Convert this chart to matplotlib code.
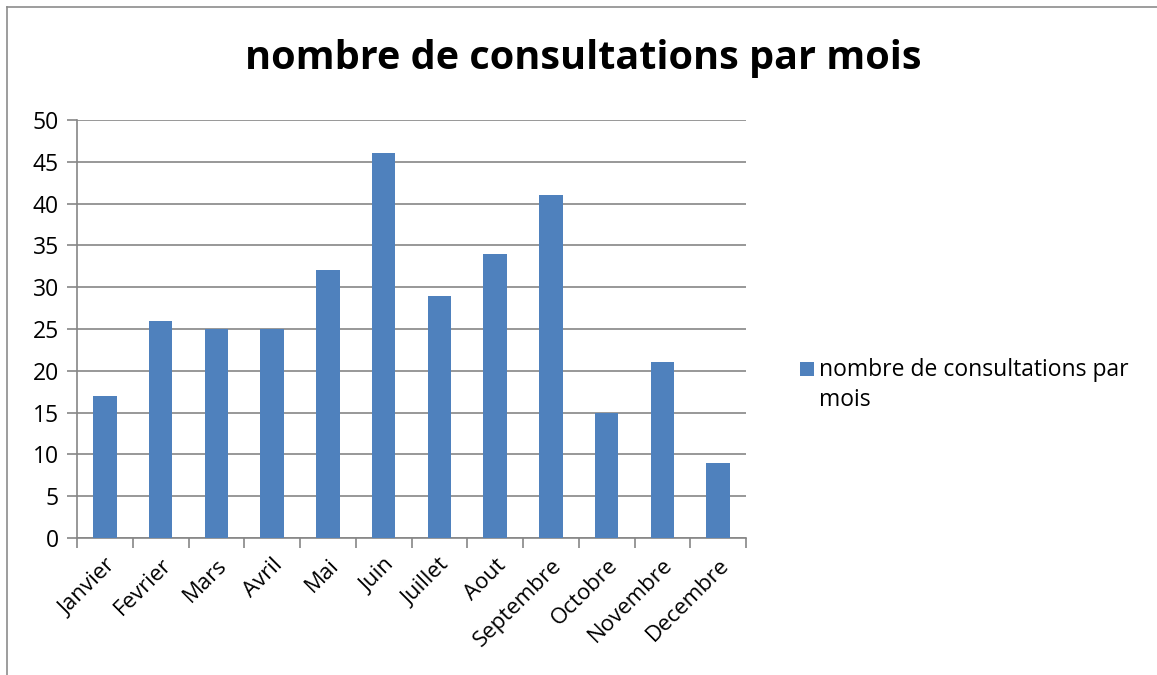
import matplotlib
matplotlib.use("Agg")
import matplotlib.pyplot as plt
from matplotlib.lines import Line2D
from matplotlib.patches import Rectangle

months = ["Janvier", "Fevrier", "Mars", "Avril", "Mai", "Juin", "Juillet",
          "Aout", "Septembre", "Octobre", "Novembre", "Decembre"]
consultations = [17, 26, 25, 25, 32, 46, 29, 34, 41, 15, 21, 9]
series_name = "nombre de consultations par mois"
legend_label = "nombre de consultations par\nmois"
yticks = [0, 5, 10, 15, 20, 25, 30, 35, 40, 45, 50]

plt.rcParams['font.family'] = ['Open Sans', 'DejaVu Sans']

W, H = 1157, 675
fig = plt.figure(figsize=(W / 100, H / 100), dpi=100)
ax = fig.add_axes([77 / W, 1 - 538 / H, (746 - 77) / W, (538 - 120) / H])

bar_color = "#4F81BD"
grid_color = "#868686"
x = list(range(len(months)))
ax.bar(x, consultations, width=0.42, color=bar_color, zorder=3)
ax.set_xlim(-0.5, len(months) - 0.5)
ax.set_ylim(0, 50)
ax.set_yticks(yticks)
ax.set_yticklabels([str(v) for v in yticks], fontsize=16.5)
ax.yaxis.grid(True, color=grid_color, linewidth=1.2, zorder=0)
ax.set_xticks([i - 0.5 for i in range(len(months) + 1)], minor=False)
ax.set_xticklabels([])
ax.set_xticks(x, minor=True)
ax.set_xticklabels(months, minor=True, rotation=45, ha='right',
                   rotation_mode='anchor', fontsize=16)
ax.tick_params(axis='x', which='minor', length=0, pad=12)
ax.tick_params(axis='x', which='major', length=7, width=1.2, color=grid_color)
ax.tick_params(axis='y', length=7, width=1.2, color=grid_color, pad=6)
for s in ['top', 'right']:
    ax.spines[s].set_visible(False)
for s in ['left', 'bottom']:
    ax.spines[s].set_color(grid_color)
    ax.spines[s].set_linewidth(1.2)

fig.text(583 / W, 1 - 58 / H, series_name, ha='center', va='center',
         fontsize=28.5, fontweight='bold')

# legend (Excel-style: key aligned with first line)
fig.add_artist(Rectangle((800 / W, 1 - 376 / H), 14 / W, 14 / H,
                         transform=fig.transFigure, facecolor=bar_color,
                         edgecolor='none'))
fig.text(819 / W, 1 - 358 / H, legend_label, ha='left', va='top',
         fontsize=16.5, linespacing=1.35)

# outer chart frame (partially visible)
fig.add_artist(Line2D([7 / W, 7 / W], [0, 1 - 7 / H], transform=fig.transFigure,
                      color="#8c8c8c", linewidth=1.2))
fig.add_artist(Line2D([7 / W, 1], [1 - 7 / H, 1 - 7 / H], transform=fig.transFigure,
                      color="#8c8c8c", linewidth=1.2))

fig.savefig("out.png", dpi=100, facecolor="white")
